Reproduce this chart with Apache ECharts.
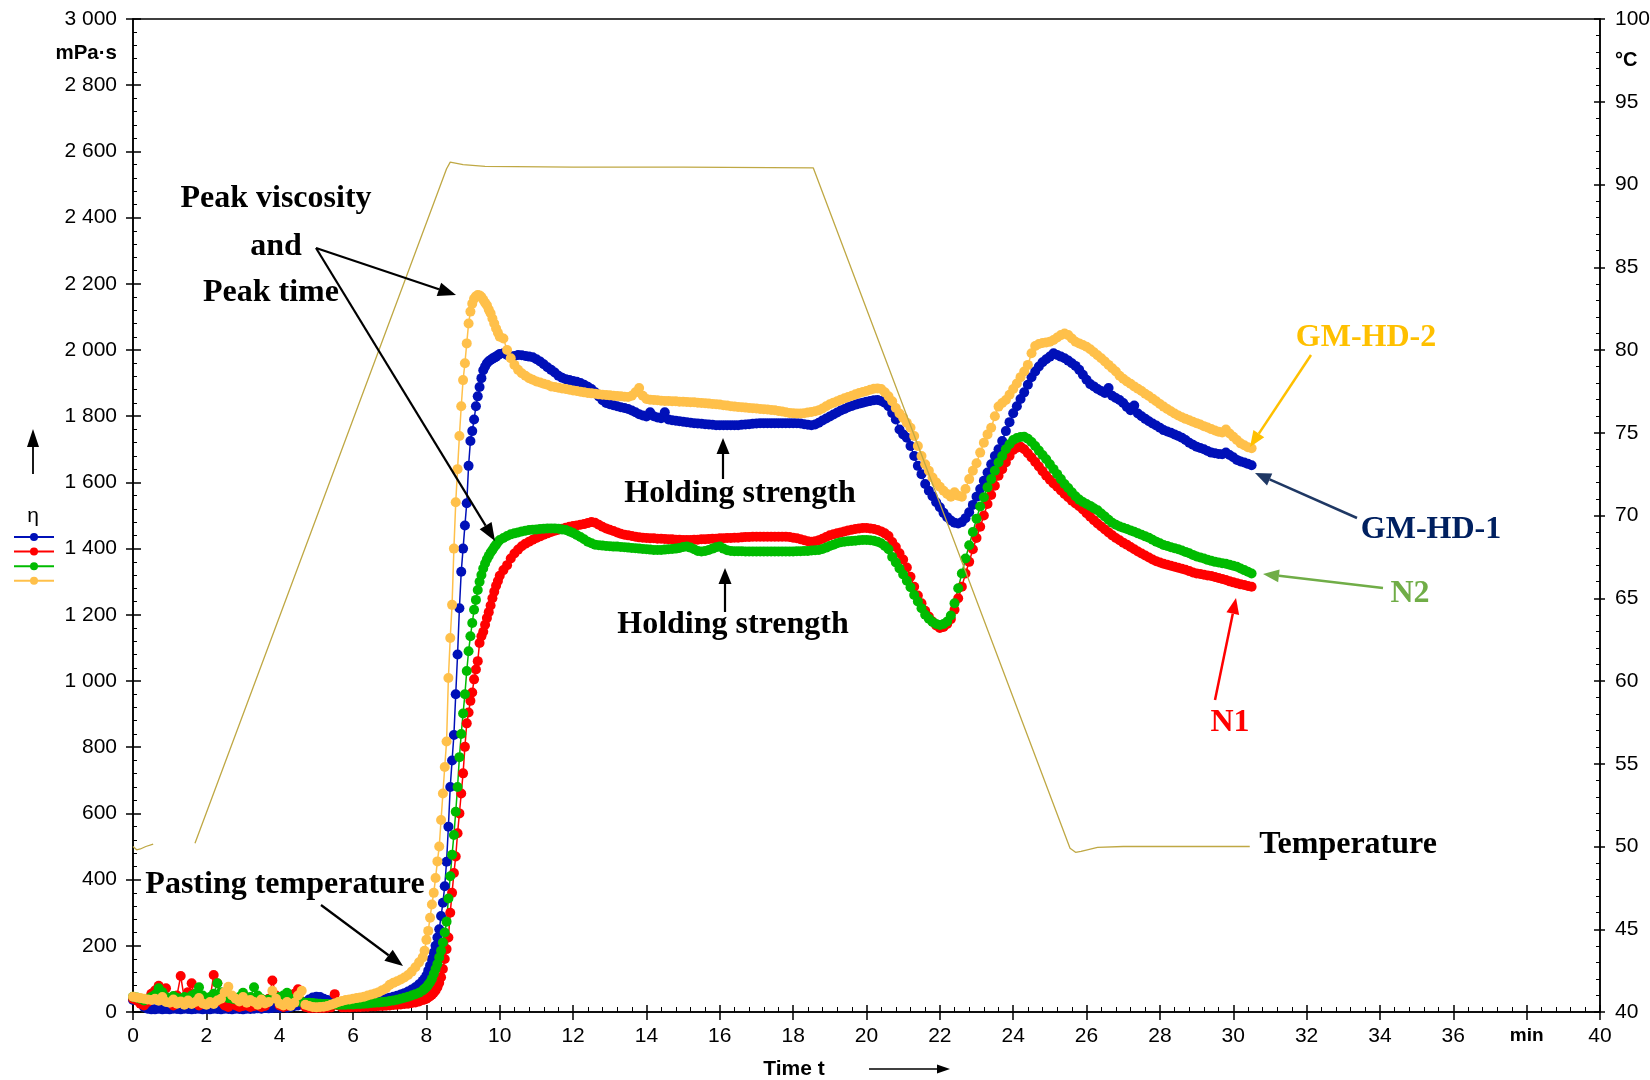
<!DOCTYPE html>
<html><head><meta charset="utf-8">
<script src="https://cdn.jsdelivr.net/npm/echarts@6/dist/echarts.min.js"></script>
<style>html,body{margin:0;padding:0;background:#fff}#c{width:1650px;height:1080px}</style>
</head><body><div id="c"></div>
<script>
// ---------- DATA ----------
const timeA = [
0,0.1,0.2,0.3,0.4,0.5,0.6,0.7,0.8,0.9,
1,1.1,1.2,1.3,1.4,1.5,1.6,1.7,1.8,1.9,
2,2.1,2.2,2.3,2.4,2.5,2.6,2.7,2.8,2.9,
3,3.1,3.2,3.3,3.4,3.5,3.6,3.7,3.8,3.9,
4,4.1,4.2,4.3,4.4,4.5,4.6,4.7,4.8,4.9,
5,5.1,5.2,5.3,5.4,5.5,5.6,5.7,5.8,5.9,
6,6.1,6.2,6.3,6.4,6.5,6.6,6.7,6.8,6.9,
7,7.1,7.2,7.3,7.4,7.5,7.6,7.7,7.8,7.9];
const timeB = [
7.95,8,8.05,8.1,8.15,8.2,8.25,8.3,8.35,8.4,
8.45,8.5,8.55,8.6,8.65,8.7,8.75,8.8,8.85,8.9,
8.95,9,9.05,9.1,9.15,9.2,9.25,9.3,9.35,9.4,
9.45,9.5,9.55,9.6,9.65,9.7,9.75,9.8,9.85,9.9,
9.95,10];
const timeC = [
10.1,10.2,10.3,10.4,10.5,10.6,10.7,10.8,10.9,11,
11.1,11.2,11.3,11.4,11.5,11.6,11.7,11.8,11.9,12,
12.1,12.2,12.3,12.4,12.5,12.6,12.7,12.8,12.9,13,
13.1,13.2,13.3,13.4,13.5,13.6,13.7,13.8,13.9,14,
14.1,14.2,14.3,14.4,14.5,14.6,14.7,14.8,14.9,15,
15.1,15.2,15.3,15.4,15.5,15.6,15.7,15.8,15.9,16,
16.1,16.2,16.3,16.4,16.5,16.6,16.7,16.8,16.9,17,
17.1,17.2,17.3,17.4,17.5,17.6,17.7,17.8,17.9,18,
18.1,18.2,18.3,18.4,18.5,18.6,18.7,18.8,18.9,19,
19.1,19.2,19.3,19.4,19.5,19.6,19.7,19.8,19.9,20,
20.1,20.2,20.3,20.4,20.5,20.6,20.7,20.8,20.9,21,
21.1,21.2,21.3,21.4,21.5,21.6,21.7,21.8,21.9,22,
22.1,22.2,22.3,22.4,22.5,22.6,22.7,22.8,22.9,23,
23.1,23.2,23.3,23.4,23.5,23.6,23.7,23.8,23.9,24,
24.1,24.2,24.3,24.4,24.5,24.6,24.7,24.8,24.9,25,
25.1,25.2,25.3,25.4,25.5,25.6,25.7,25.8,25.9,26,
26.1,26.2,26.3,26.4,26.5,26.6,26.7,26.8,26.9,27,
27.1,27.2,27.3,27.4,27.5,27.6,27.7,27.8,27.9,28,
28.1,28.2,28.3,28.4,28.5,28.6,28.7,28.8,28.9,29,
29.1,29.2,29.3,29.4,29.5,29.6,29.7,29.8,29.9,30,
30.1,30.2,30.3,30.4,30.5];

// GM-HD-1 (blue), mPa·s
const gmhd1 = [
36,40,28,15,10,8,8,10,8,9,
8,10,9,8,10,9,8,9,10,8,
9,8,10,9,8,10,9,8,10,9,
8,10,9,10,11,10,12,11,12,13,
12,14,13,15,18,20,25,30,38,44,
46,45,40,36,32,30,29,28,28,29,
30,31,32,33,34,35,36,37,39,41,
43,46,49,53,57,62,68,75,84,94,
// 7.95 - 10
100,110,125,140,160,180,200,225,250,290,
330,380,454,560,680,760,837,960,1080,1220,
1330,1400,1470,1537,1650,1725,1755,1790,1830,1860,
1888,1915,1939,1950,1960,1966,1970,1974,1977,1980,
1984,1988,
// 10.1 - 30.5
1990,1985,1980,1982,1985,1984,1982,1980,1978,1972,
1965,1957,1948,1940,1932,1922,1916,1912,1909,1906,
1904,1900,1895,1889,1882,1872,1860,1848,1840,1836,
1833,1830,1827,1825,1822,1817,1812,1806,1802,1799,
1812,1800,1796,1794,1812,1790,1788,1786,1785,1783,
1782,1780,1779,1778,1777,1776,1775,1774,1773,1773,
1773,1773,1773,1773,1773,1774,1775,1776,1777,1778,
1779,1779,1779,1779,1779,1779,1779,1779,1779,1779,
1779,1778,1776,1774,1773,1775,1780,1787,1793,1799,
1805,1811,1817,1822,1827,1831,1835,1838,1841,1844,
1846,1848,1849,1846,1841,1830,1810,1790,1760,1745,
1735,1710,1680,1650,1625,1595,1575,1558,1540,1525,
1508,1495,1485,1478,1476,1480,1492,1510,1532,1557,
1580,1605,1630,1655,1680,1700,1725,1755,1782,1809,
1830,1852,1872,1895,1918,1935,1950,1963,1972,1980,
1990,1985,1980,1975,1968,1960,1952,1940,1925,1910,
1897,1890,1882,1876,1870,1885,1862,1855,1849,1840,
1828,1818,1832,1808,1800,1792,1785,1778,1772,1765,
1758,1754,1750,1745,1740,1735,1728,1720,1714,1708,
1704,1700,1695,1690,1688,1686,1685,1690,1683,1676,
1668,1663,1660,1656,1652];

// N1 (red)
const n1 = [
40,35,25,20,30,55,65,79,60,72,
40,20,50,109,40,60,87,30,20,25,
35,40,112,87,30,20,15,40,20,15,
18,20,15,18,20,15,18,40,95,50,
20,15,18,45,55,69,30,15,12,12,
12,12,12,13,14,54,20,14,14,14,
15,15,15,16,16,17,17,18,18,19,
20,21,22,23,24,25,27,29,32,36,
38,40,44,48,52,58,65,75,88,105,
130,160,190,225,300,360,420,470,540,600,
660,721,801,872,905,940,965,1005,1035,1060,
1115,1135,1149,1170,1190,1208,1228,1250,1270,1288,
1302,1318,
1335,1350,1370,1385,1397,1407,1415,1421,1427,1432,
1437,1442,1446,1450,1454,1457,1460,1463,1466,1468,
1470,1472,1474,1477,1480,1478,1472,1466,1461,1457,
1453,1449,1445,1442,1440,1438,1436,1434,1433,1432,
1431,1431,1430,1430,1429,1428,1428,1427,1427,1426,
1426,1426,1427,1427,1428,1428,1429,1430,1430,1431,
1431,1432,1432,1433,1433,1434,1435,1435,1436,1436,
1436,1436,1436,1436,1436,1436,1436,1436,1435,1433,
1431,1428,1425,1422,1421,1422,1425,1430,1435,1440,
1443,1446,1449,1452,1455,1457,1459,1461,1462,1462,
1461,1459,1456,1452,1446,1438,1420,1405,1386,1367,
1343,1315,1285,1258,1235,1212,1195,1180,1168,1160,
1163,1172,1187,1215,1250,1285,1325,1360,1398,1432,
1466,1500,1535,1562,1590,1620,1640,1660,1680,1698,
1705,1708,1700,1688,1675,1662,1648,1634,1620,1608,
1597,1587,1576,1565,1555,1545,1536,1528,1518,1507,
1496,1486,1476,1467,1458,1449,1440,1432,1425,1418,
1412,1405,1398,1391,1385,1379,1373,1367,1362,1358,
1354,1351,1348,1345,1342,1339,1336,1332,1328,1325,
1323,1321,1319,1317,1314,1311,1308,1305,1301,1298,
1295,1292,1290,1287,1285];

// N2 (green)
const n2 = [
46,44,40,35,40,45,52,72,60,45,
40,48,42,38,45,40,50,55,75,50,
42,45,55,87,60,48,42,40,38,45,
58,40,45,75,50,40,35,38,42,40,
45,50,58,40,35,32,30,28,28,27,
26,25,24,24,23,23,22,22,22,23,
23,24,24,25,26,27,28,29,30,31,
33,35,37,40,43,46,50,54,58,65,
70,75,82,90,100,115,130,145,165,185,
210,240,273,343,410,475,535,605,680,770,
840,902,960,1030,1090,1135,1175,1215,1245,1275,
1300,1320,1340,1355,1368,1378,1388,1396,1405,1412,
1420,1426,
1432,1438,1443,1446,1449,1452,1454,1456,1457,1458,
1459,1460,1461,1461,1461,1460,1458,1456,1452,1447,
1441,1435,1428,1421,1416,1412,1410,1409,1408,1407,
1406,1406,1405,1404,1403,1402,1401,1400,1399,1398,
1397,1396,1396,1396,1397,1398,1399,1400,1402,1405,
1406,1403,1398,1393,1391,1393,1396,1400,1404,1406,
1400,1395,1393,1392,1392,1392,1391,1391,1391,1391,
1391,1391,1391,1391,1391,1391,1391,1391,1391,1391,
1392,1392,1393,1393,1394,1395,1396,1399,1403,1408,
1412,1416,1419,1421,1422,1423,1424,1425,1426,1426,
1425,1424,1421,1416,1408,1398,1375,1358,1340,1322,
1303,1283,1260,1240,1220,1200,1188,1178,1172,1169,
1172,1180,1198,1235,1280,1325,1370,1410,1450,1490,
1527,1555,1585,1610,1635,1660,1680,1700,1715,1728,
1734,1737,1738,1732,1722,1710,1696,1683,1670,1655,
1640,1625,1610,1595,1583,1570,1558,1548,1541,1535,
1529,1522,1516,1506,1497,1487,1478,1472,1467,1463,
1459,1455,1451,1446,1442,1437,1433,1427,1421,1416,
1411,1408,1404,1401,1398,1394,1390,1386,1381,1376,
1373,1370,1366,1363,1360,1358,1356,1354,1351,1348,
1345,1340,1335,1330,1325];

// GM-HD-2 (orange)
const gmhd2 = [
46,44,42,40,38,36,40,34,45,30,
28,38,25,32,22,35,24,30,42,26,
22,30,24,35,40,60,76,50,40,32,
45,28,36,30,22,38,26,30,64,40,
25,20,30,18,28,50,64,22,18,15,
14,15,16,18,22,26,30,33,36,38,
40,42,44,46,50,53,56,60,66,72,
82,88,93,98,104,112,122,135,150,165,
185,218,245,285,325,360,405,455,500,580,
660,740,817,1009,1130,1230,1400,1540,1640,1740,
1830,1909,1960,2020,2080,2116,2140,2155,2162,2166,
2165,2160,2152,2143,2135,2122,2111,2095,2080,2065,
2052,2040,
2035,2000,1975,1955,1940,1930,1922,1915,1910,1905,
1902,1898,1895,1890,1888,1886,1884,1882,1880,1878,
1876,1874,1872,1870,1869,1868,1866,1865,1864,1863,
1862,1861,1860,1859,1858,1862,1872,1885,1862,1852,
1850,1849,1848,1847,1846,1846,1845,1845,1844,1844,
1843,1842,1842,1841,1840,1839,1838,1837,1836,1835,
1833,1832,1830,1829,1828,1827,1826,1825,1824,1823,
1822,1821,1820,1819,1818,1816,1814,1812,1810,1809,
1808,1808,1809,1811,1813,1815,1818,1823,1830,1836,
1841,1845,1850,1854,1858,1862,1866,1870,1873,1876,
1880,1883,1884,1882,1872,1860,1845,1825,1808,1795,
1780,1765,1740,1710,1680,1655,1635,1615,1600,1587,
1575,1565,1557,1570,1560,1557,1580,1610,1635,1658,
1690,1720,1745,1765,1800,1829,1840,1849,1865,1882,
1899,1918,1935,1955,1990,2012,2018,2021,2023,2025,
2030,2038,2045,2050,2045,2035,2025,2020,2015,2010,
2002,1993,1984,1975,1965,1955,1945,1935,1922,1913,
1905,1898,1890,1883,1876,1868,1861,1853,1845,1837,
1829,1822,1815,1808,1802,1797,1792,1788,1783,1779,
1775,1770,1766,1761,1757,1753,1751,1760,1748,1738,
1728,1718,1712,1706,1703];

// Temperature, °C ('-' = gap in the record)
const tempTime = [0,0.1,0.2,0.35,0.55,0.6,1.69,8.55,8.65,9.0,9.6,12,15,18.55,25.55,25.7,25.85,26.3,27,30.45];
const tempVal  = [50.0,49.8,49.85,50.0,50.15,'-',50.2,90.95,91.35,91.2,91.1,91.05,91.05,91.0,49.9,49.65,49.7,49.95,50.0,50.0];

// tick labels
const timeTicks = ['0','2','4','6','8','10','12','14','16','18','20','22','24','26','28','30','32','34','36','min','40'];
const viscTicks = ['0','200','400','600','800','1 000','1 200','1 400','1 600','1 800','2 000','2 200','2 400','2 600','2 800','3 000'];
const tempTicks = ['40','45','50','55','60','65','70','75','80','85','90','95','100'];

// ---------- CHART ----------
const time = timeA.concat(timeB, timeC);
const chart = echarts.init(document.getElementById('c'), null, {renderer:'canvas'});
const SANS = '"Liberation Sans", Arial, sans-serif';
const SERIF = '"Liberation Serif", "Times New Roman", serif';
const lblStyle = {color:'#000', fontFamily:SANS, fontSize:21};
const blk = {color:'#000', width:1.5};

function vis(name, vals, color){
  return {name, type:'line', xAxisIndex:0, yAxisIndex:0,
    data: time.map((t,i)=>[t, vals[i]]),
    symbol:'circle', symbolSize:10, showSymbol:true, clip:false,
    itemStyle:{color}, lineStyle:{color, width:1.5},
    emphasis:{disabled:true}, z:2, animation:false};
}
function arrow(x1,y1,x2,y2,color,w,hl,hw){
  const dx=x2-x1, dy=y2-y1, L=Math.hypot(dx,dy), ux=dx/L, uy=dy/L;
  const bx=x2-ux*hl, by=y2-uy*hl, nx=-uy, ny=ux;
  return [
    {type:'line', z:100, shape:{x1,y1,x2:bx,y2:by}, style:{stroke:color, lineWidth:w}},
    {type:'polygon', z:100, shape:{points:[[x2,y2],[bx+nx*hw/2,by+ny*hw/2],[bx-nx*hw/2,by-ny*hw/2]]}, style:{fill:color}}
  ];
}
function txt(text,x,y,color,font,align){
  align = align||'center';
  return {type:'text', z:100, style:{text, x, y, fill:color, font,
    textAlign:align, align:align, textVerticalAlign:'middle', verticalAlign:'middle'}};
}
const F32 = 'bold 32px ' + SERIF;

const graphics = [].concat(
  txt('Peak viscosity',276,199,'#000',F32),
  txt('and',276,247,'#000',F32),
  txt('Peak time',271,293,'#000',F32),
  arrow(316,248,456,295,'#000',2.2,18,14),
  arrow(316,248,495,541,'#000',2.2,18,14),
  txt('Holding strength',740,494,'#000',F32),
  arrow(723,479,723,438,'#000',2.2,16,13),
  txt('Holding strength',733,625,'#000',F32),
  arrow(725,612,725,568,'#000',2.2,16,13),
  txt('Pasting temperature',285,885,'#000',F32),
  arrow(321,905,403,966,'#000',2.2,18,14),
  txt('GM-HD-2',1366,338,'#FFC000',F32),
  arrow(1311,355,1250,447,'#FFC000',2.5,16,13),
  txt('GM-HD-1',1431,530,'#002060',F32),
  arrow(1357,518,1255,473,'#1F3864',2.5,16,13),
  txt('N2',1410,594,'#70AD47',F32),
  arrow(1383,588,1263,574,'#70AD47',2.5,16,13),
  txt('N1',1230,723,'#FF0000',F32),
  arrow(1215,700,1236,598,'#FF0000',2.5,16,13),
  txt('Temperature',1348,845,'#000',F32),
  txt('mPa·s',117,53,'#000','bold 20.5px '+SANS,'right'),
  txt('°C',1615,60,'#000','bold 20px '+SANS,'left'),
  txt('Time t',794,1069,'#000','bold 21px '+SANS),
  arrow(869,1069,950,1069,'#000',1.5,13,9),
  txt('η',33,516,'#000','21px '+SANS),
  arrow(33,474,33,429,'#000',1.8,18,12)
);

const option = {
  animation:false,
  backgroundColor:'#fff',
  grid:{left:133, right:50, top:19, bottom:68, show:true, borderColor:'#000', borderWidth:1.5,
        backgroundColor:'transparent', containLabel:false, outerBoundsMode:'none'},
  legend:{data:['GM-HD-1','N1','N2','GM-HD-2'], orient:'vertical', left:13, top:532,
          itemWidth:40, itemHeight:10, itemGap:5.6, formatter:()=>'', textStyle:{fontSize:6},
          selectedMode:false, padding:0},
  xAxis:[
    {type:'value', min:0, max:40, interval:2, position:'bottom',
     axisLine:{show:true, onZero:false, lineStyle:blk},
     axisTick:{show:true, inside:false, length:8, lineStyle:blk},
     minorTick:{show:false}, splitLine:{show:false},
     axisLabel:{...lblStyle, margin:14, formatter:v=>{const s=timeTicks[Math.round(v/2)]; return s==='min'?'{b|min}':s;},
       rich:{b:{fontWeight:'bold', fontSize:19, fontFamily:SANS, color:'#000'}}}},
    {type:'value', min:0, max:40, interval:2, position:'bottom',
     axisLine:{show:false, onZero:false},
     axisTick:{show:true, inside:true, length:7, lineStyle:blk},
     minorTick:{show:true, splitNumber:5, length:5, lineStyle:{color:'#000', width:1}},
     splitLine:{show:false}, axisLabel:{show:false}}
  ],
  yAxis:[
    {type:'value', min:0, max:3000, interval:200, position:'left',
     axisLine:{show:true, onZero:false, lineStyle:blk},
     axisTick:{show:true, inside:false, length:7, lineStyle:blk},
     minorTick:{show:false}, splitLine:{show:false},
     axisLabel:{...lblStyle, margin:16, formatter:v=>viscTicks[Math.round(v/200)]}},
    {type:'value', min:0, max:3000, interval:200, position:'left',
     axisLine:{show:false, onZero:false},
     axisTick:{show:true, inside:true, length:8, lineStyle:blk},
     minorTick:{show:true, splitNumber:5, length:4, lineStyle:{color:'#000', width:1}},
     splitLine:{show:false}, axisLabel:{show:false}},
    {type:'value', min:40, max:100, interval:5, position:'right',
     axisLine:{show:true, onZero:false, lineStyle:blk},
     axisTick:{show:true, inside:false, length:5, lineStyle:blk},
     minorTick:{show:false}, splitLine:{show:false},
     axisLabel:{...lblStyle, margin:15, formatter:v=>tempTicks[Math.round((v-40)/5)]}},
    {type:'value', min:40, max:100, interval:5, position:'right',
     axisLine:{show:false, onZero:false},
     axisTick:{show:true, inside:true, length:6, lineStyle:blk},
     minorTick:{show:true, splitNumber:5, length:4, lineStyle:{color:'#000', width:1}},
     splitLine:{show:false}, axisLabel:{show:false}}
  ],
  series:[
    vis('GM-HD-1', gmhd1, '#0010B8'),
    vis('N1', n1, '#FF0000'),
    vis('N2', n2, '#00BB00'),
    vis('GM-HD-2', gmhd2, '#FFC04A'),
    {name:'Temperature', type:'line', xAxisIndex:0, yAxisIndex:2,
     data: tempTime.map((t,i)=>[t, tempVal[i]]), connectNulls:false,
     showSymbol:false, symbol:'none', lineStyle:{color:'#BFA844', width:1.3},
     emphasis:{disabled:true}, z:5, animation:false}
  ],
  graphic: graphics
};
chart.setOption(option);
</script></body></html>
